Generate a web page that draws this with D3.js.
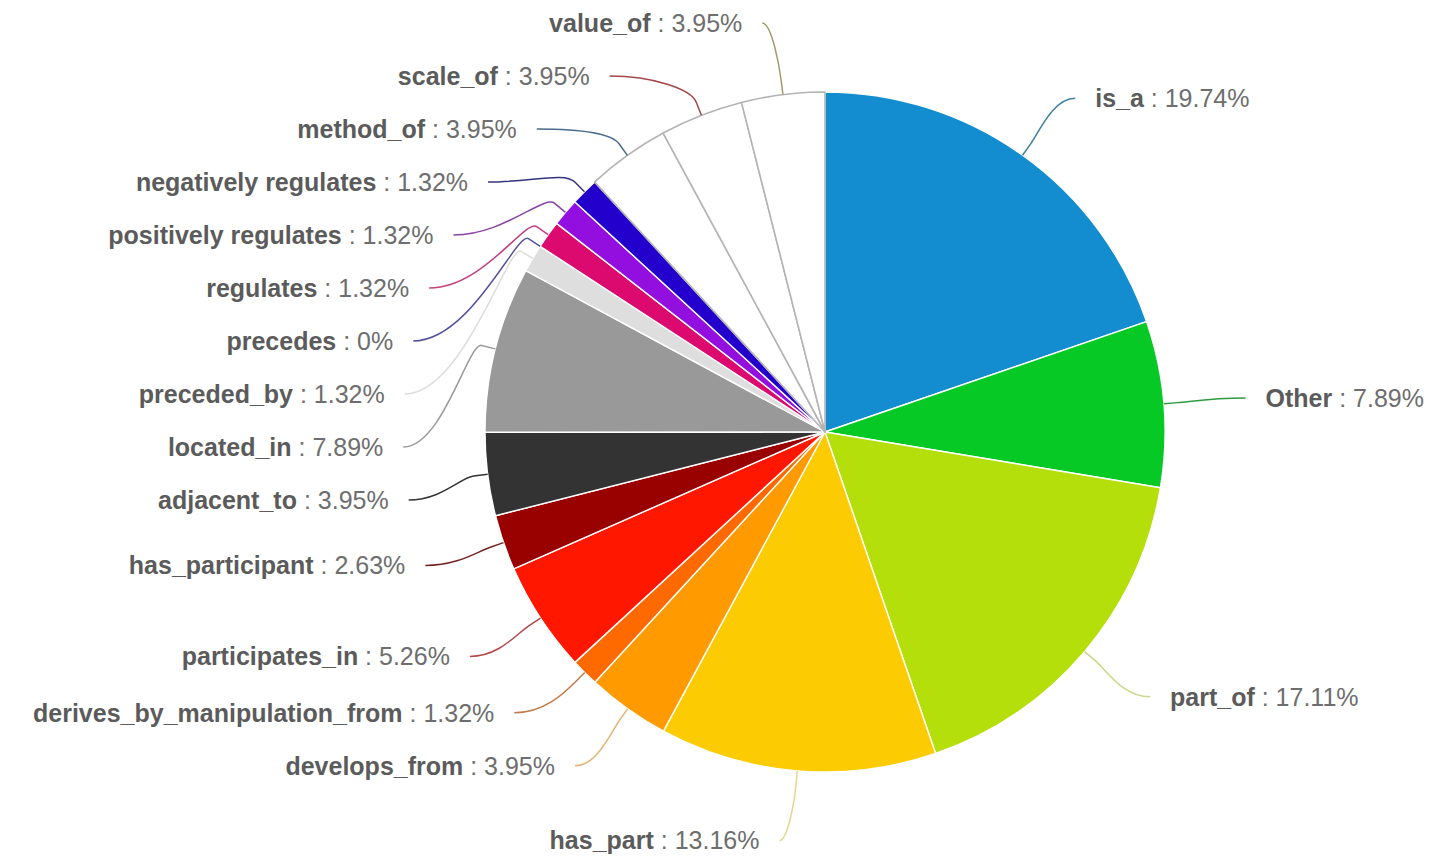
<!DOCTYPE html>
<html>
<head>
<meta charset="utf-8">
<script src="https://cdn.jsdelivr.net/npm/d3@7"></script>
<style>
  body { margin: 0; background: #ffffff; }
  svg { display: block; }
</style>
</head>
<body>
<svg id="chart" width="1429" height="857"></svg>
<script>
// Relation types and their share of all relations (percent)
const categories = [
  "is_a", "Other", "part_of", "has_part", "develops_from",
  "derives_by_manipulation_from", "participates_in", "has_participant",
  "adjacent_to", "located_in", "preceded_by", "precedes", "regulates",
  "positively regulates", "negatively regulates", "method_of", "scale_of", "value_of"
];
const shares = [
  19.74, 7.89, 17.11, 13.16, 3.95,
  1.32, 5.26, 2.63,
  3.95, 7.89, 1.32, 0, 1.32,
  1.32, 1.32, 3.95, 3.95, 3.95
];

// Slice fills and connector colours, in category order
const sliceColors = [
  "#138dd0", "#06c925", "#b4df0b", "#fdcb02", "#ff9a00",
  "#ff6a00", "#ff1700", "#990000", "#333333", "#999999",
  "#dedede", "#cccccc", "#dc0a6e", "#930fdf", "#2300cc",
  "#ffffff", "#ffffff", "#ffffff"
];
const connectorColors = [
  "#3f7fa6", "#2f9a42", "#c9d98a", "#e6d68e", "#e2b478",
  "#c47a48", "#b4484a", "#722424", "#333333", "#999999",
  "#dddddd", "#55559e", "#c2407e", "#8a44a6", "#34347e",
  "#4b6a8c", "#a4484a", "#a09a6a"
];

const cx = 825, cy = 432, radius = 340;
const labelRadius = 410, labelSpacing = 53;

const svg = d3.select("#chart");
const g = svg.append("g").attr("transform", `translate(${cx},${cy})`);

const pie = d3.pie().sort(null).value(d => d);
const arcs = pie(shares).map((a, i) => ({ ...a, i }));
const arc = d3.arc().innerRadius(0).outerRadius(radius);

// Slices
g.selectAll("path.slice")
  .data(arcs.filter(a => a.value > 0))
  .join("path")
  .attr("class", "slice")
  .attr("d", arc)
  .attr("fill", a => sliceColors[a.i])
  .attr("stroke", a => sliceColors[a.i] === "#ffffff" ? "#b4b4b4" : "#ffffff")
  .attr("stroke-width", a => sliceColors[a.i] === "#ffffff" ? 1.6 : 1.4)
  .attr("stroke-linejoin", "round");

// Label placement: ideal height from the slice's mid angle, then pushed apart per side
const polar = (ang, rr) => [rr * Math.sin(ang), -rr * Math.cos(ang)];
arcs.forEach(a => {
  a.mid = (a.startAngle + a.endAngle) / 2;
  a.left = a.mid > Math.PI;
  a.ly = -labelRadius * Math.cos(a.mid);
});
const topBound = -labelRadius + 1;
[true, false].forEach(side => {
  const group = arcs.filter(a => a.left === side).sort((p, q) => p.ly - q.ly);
  // push upward from the bottom first, then downward from the top edge
  for (let k = group.length - 2; k >= 0; k--) {
    group[k].ly = Math.min(group[k].ly, group[k + 1].ly - labelSpacing);
  }
  for (let k = 0; k < group.length; k++) {
    const floor = k === 0 ? topBound : group[k - 1].ly + labelSpacing;
    group[k].ly = Math.max(group[k].ly, floor);
  }
  // x follows the label circle; the outermost labels keep their natural x
  group.forEach((a, k) => {
    const edge = k === 0 || k === group.length - 1;
    const dx = (edge
      ? Math.abs(labelRadius * Math.sin(a.mid))
      : Math.sqrt(Math.max(0, labelRadius * labelRadius - a.ly * a.ly))) + 12;
    a.lx = a.left ? -dx : dx;
  });
});

// Connectors
g.selectAll("path.connector")
  .data(arcs)
  .join("path")
  .attr("class", "connector")
  .attr("fill", "none")
  .attr("stroke", a => connectorColors[a.i])
  .attr("stroke-width", 1.5)
  .attr("d", a => {
    const e = polar(a.mid, radius);
    const b = polar(a.mid, radius + 14);
    const c2 = polar(a.mid, radius + 28);
    const c1x = a.lx + (b[0] - a.lx) * 0.5;
    return `M${a.lx},${a.ly}C${c1x},${a.ly} ${c2[0]},${c2[1]} ${b[0]},${b[1]}L${e[0]},${e[1]}`;
  });

// Labels
const labels = g.selectAll("text.label")
  .data(arcs)
  .join("text")
  .attr("class", "label")
  .attr("x", a => a.left ? a.lx - 20 : a.lx + 20)
  .attr("y", a => a.ly)
  .attr("dy", "0.35em")
  .attr("text-anchor", a => a.left ? "end" : "start")
  .style("font-family", "'Liberation Sans', Arial, sans-serif")
  .style("font-size", "25px");
labels.append("tspan")
  .attr("font-weight", "bold")
  .attr("fill", "#5b5b5b")
  .text(a => categories[a.i]);
labels.append("tspan")
  .attr("fill", "#6e6e6e")
  .text(a => " : " + a.value + "%");
</script>
</body>
</html>
